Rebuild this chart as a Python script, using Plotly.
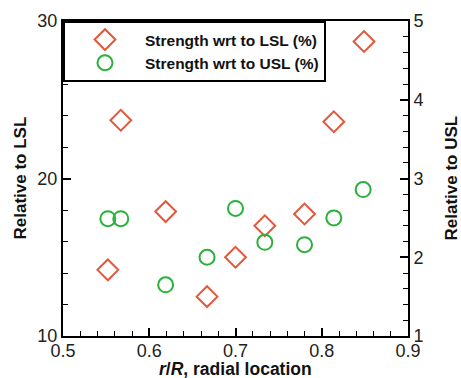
import plotly.graph_objects as go

r_lsl = [0.552, 0.567, 0.619, 0.667, 0.700, 0.734, 0.780, 0.814, 0.849]
lsl = [14.2, 23.7, 17.9, 12.5, 15.0, 17.0, 17.75, 23.6, 28.7]
r_usl = [0.552, 0.567, 0.619, 0.667, 0.700, 0.734, 0.780, 0.814, 0.848]
usl = [2.49, 2.49, 1.65, 2.00, 2.62, 2.19, 2.16, 2.50, 2.86]

x_ticks = [0.5, 0.6, 0.7, 0.8, 0.9]
y1_ticks = [10, 20, 30]
y2_ticks = [1, 2, 3, 4, 5]

RED = "#E4573B"
GREEN = "#2BB03C"
FONT = "Liberation Sans, Arial, sans-serif"

fig = go.Figure()
fig.add_trace(go.Scatter(
    x=r_lsl, y=lsl, mode="markers", name="Strength wrt to LSL (%)",
    marker=dict(symbol="diamond-open", size=16, color=RED, line=dict(width=2, color=RED)),
    yaxis="y",
))
fig.add_trace(go.Scatter(
    x=r_usl, y=usl, mode="markers", name="Strength wrt to USL (%)",
    marker=dict(symbol="circle-open", size=15, color=GREEN, line=dict(width=2, color=GREEN)),
    yaxis="y2",
))

axis_common = dict(
    showgrid=False, zeroline=False, showline=True, linecolor="black", linewidth=2,
    ticks="inside", tickcolor="black", tickwidth=2, ticklen=8, automargin=False,
    tickfont=dict(family=FONT, size=18, color="#222"),
)

title_font = dict(family=FONT, color="#111", weight="bold")

fig.update_layout(
    width=461, height=378,
    margin=dict(l=63, r=53, t=21, b=42),
    paper_bgcolor="white", plot_bgcolor="white",
    showlegend=True,
    legend=dict(
        x=0, y=1, xanchor="left", yanchor="top",
        bgcolor="white", bordercolor="black", borderwidth=2,
        font=dict(family=FONT, size=15.5, color="#111", weight="bold"),
        itemwidth=70, tracegroupgap=0,
    ),
    xaxis=dict(
        range=[0.5, 0.9], tickvals=x_ticks, ticktext=[str(v) for v in x_ticks],
        mirror=True, ticklabelstandoff=-3,
        minor=dict(dtick=0.02, ticks="inside", ticklen=5, tickcolor="black", tickwidth=1),
        **axis_common,
    ),
    yaxis=dict(
        range=[10, 30], tickvals=y1_ticks, ticktext=[str(v) for v in y1_ticks],
        minor=dict(dtick=2, ticks="inside", ticklen=5, tickcolor="black", tickwidth=1),
        **axis_common,
    ),
    yaxis2=dict(
        range=[1, 5], tickvals=y2_ticks, ticktext=[str(v) for v in y2_ticks],
        overlaying="y", side="right",
        minor=dict(dtick=0.2, ticks="inside", ticklen=5, tickcolor="black", tickwidth=1),
        **axis_common,
    ),
    annotations=[
        dict(text="<i>r</i>/<i>R</i>, radial location", xref="paper", yref="paper",
             x=0.5, y=0, xanchor="center", yanchor="top", yshift=-21, showarrow=False,
             font=dict(size=17.5, **title_font)),
        dict(text="Relative to LSL", xref="paper", yref="paper",
             x=0, y=0.5, xanchor="center", yanchor="middle", xshift=-43, textangle=-90,
             showarrow=False, font=dict(size=17, **title_font)),
        dict(text="Relative to USL", xref="paper", yref="paper",
             x=1, y=0.5, xanchor="center", yanchor="middle", xshift=43, textangle=-90,
             showarrow=False, font=dict(size=17, **title_font)),
    ],
)

fig.write_html("out.html")
